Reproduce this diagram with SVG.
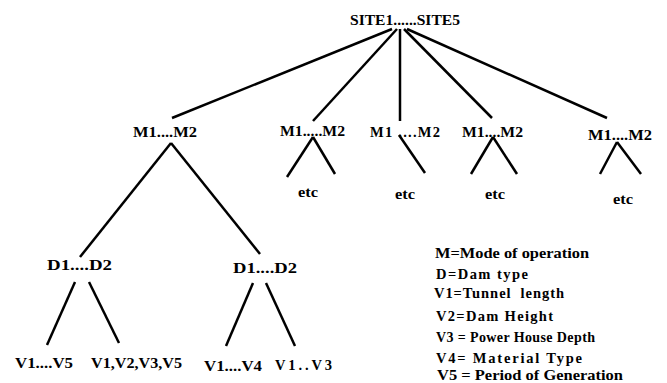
<svg xmlns="http://www.w3.org/2000/svg" width="667" height="383" viewBox="0 0 667 383">
<style>
text{font-family:"Liberation Serif","Times New Roman",serif;font-weight:bold;font-size:14.5px;fill:#000}
.c line{stroke:#000;stroke-width:2.5;stroke-linecap:butt}
</style>
<rect width="667" height="383" fill="#fff"/>
<g class="c" id="connectors">
<line x1="392" y1="29" x2="172" y2="118"/>
<line x1="397" y1="29" x2="313" y2="121"/>
<line x1="400" y1="29" x2="400" y2="121"/>
<line x1="404" y1="29" x2="492" y2="118"/>
<line x1="407" y1="29" x2="607" y2="118"/>
<line x1="313" y1="137" x2="287" y2="177"/>
<line x1="313" y1="137" x2="335" y2="174"/>
<line x1="399" y1="135" x2="425" y2="173"/>
<line x1="493" y1="137" x2="471" y2="174"/>
<line x1="493" y1="137" x2="517" y2="174"/>
<line x1="617" y1="142" x2="600" y2="174"/>
<line x1="617" y1="142" x2="641" y2="174"/>
<line x1="171" y1="143" x2="80" y2="257"/>
<line x1="171" y1="143" x2="260" y2="254"/>
<line x1="75" y1="282" x2="47" y2="345"/>
<line x1="89" y1="282" x2="119" y2="343"/>
<line x1="253" y1="283" x2="226" y2="346"/>
<line x1="266" y1="283" x2="295" y2="346"/>
</g>
<g id="root"><text x="350" y="25" textLength="110" lengthAdjust="spacingAndGlyphs">SITE1......SITE5</text></g>
<g id="m1"><text x="133" y="137" textLength="64" lengthAdjust="spacingAndGlyphs">M1....M2</text></g>
<g id="m2"><text x="280" y="136" textLength="65" lengthAdjust="spacingAndGlyphs">M1.....M2</text></g>
<g id="m3"><text x="370" y="137" textLength="70" lengthAdjust="spacing">M1 ....M2</text></g>
<g id="m4"><text x="462" y="137" textLength="61" lengthAdjust="spacingAndGlyphs">M1....M2</text></g>
<g id="m5"><text x="588" y="140" textLength="64" lengthAdjust="spacingAndGlyphs">M1....M2</text></g>
<g id="etc2"><text x="298" y="197" textLength="20" lengthAdjust="spacingAndGlyphs">etc</text></g>
<g id="etc3"><text x="395" y="199" textLength="20" lengthAdjust="spacingAndGlyphs">etc</text></g>
<g id="etc4"><text x="485" y="199" textLength="20" lengthAdjust="spacingAndGlyphs">etc</text></g>
<g id="etc5"><text x="613" y="204" textLength="20" lengthAdjust="spacingAndGlyphs">etc</text></g>
<g id="d1"><text x="47" y="270" textLength="65" lengthAdjust="spacingAndGlyphs">D1....D2</text></g>
<g id="d2"><text x="233" y="273" textLength="64" lengthAdjust="spacingAndGlyphs">D1....D2</text></g>
<g id="v1"><text x="15" y="368" textLength="58" lengthAdjust="spacingAndGlyphs">V1....V5</text></g>
<g id="v2"><text x="91" y="368" textLength="91" lengthAdjust="spacingAndGlyphs">V1,V2,V3,V5</text></g>
<g id="v3"><text x="204" y="371" textLength="58" lengthAdjust="spacingAndGlyphs">V1....V4</text></g>
<g id="v4"><text x="275" y="370" textLength="57" lengthAdjust="spacing">V1..V3</text></g>
<g id="legend">
<text x="435" y="258" textLength="154" lengthAdjust="spacingAndGlyphs">M=Mode of operation</text>
<text x="436" y="279" textLength="92" lengthAdjust="spacing">D=Dam type</text>
<text x="434" y="298" textLength="130" lengthAdjust="spacing" xml:space="preserve">V1=Tunnel  length</text>
<text x="436" y="321" textLength="117" lengthAdjust="spacing">V2=Dam Height</text>
<text x="436" y="342" textLength="159" lengthAdjust="spacing" style="font-size:14px">V3 = Power House Depth</text>
<text x="436" y="363" textLength="146" lengthAdjust="spacing">V4= Material Type</text>
<text x="437" y="380" textLength="186" lengthAdjust="spacingAndGlyphs">V5 = Period of Generation</text>
</g>
</svg>
